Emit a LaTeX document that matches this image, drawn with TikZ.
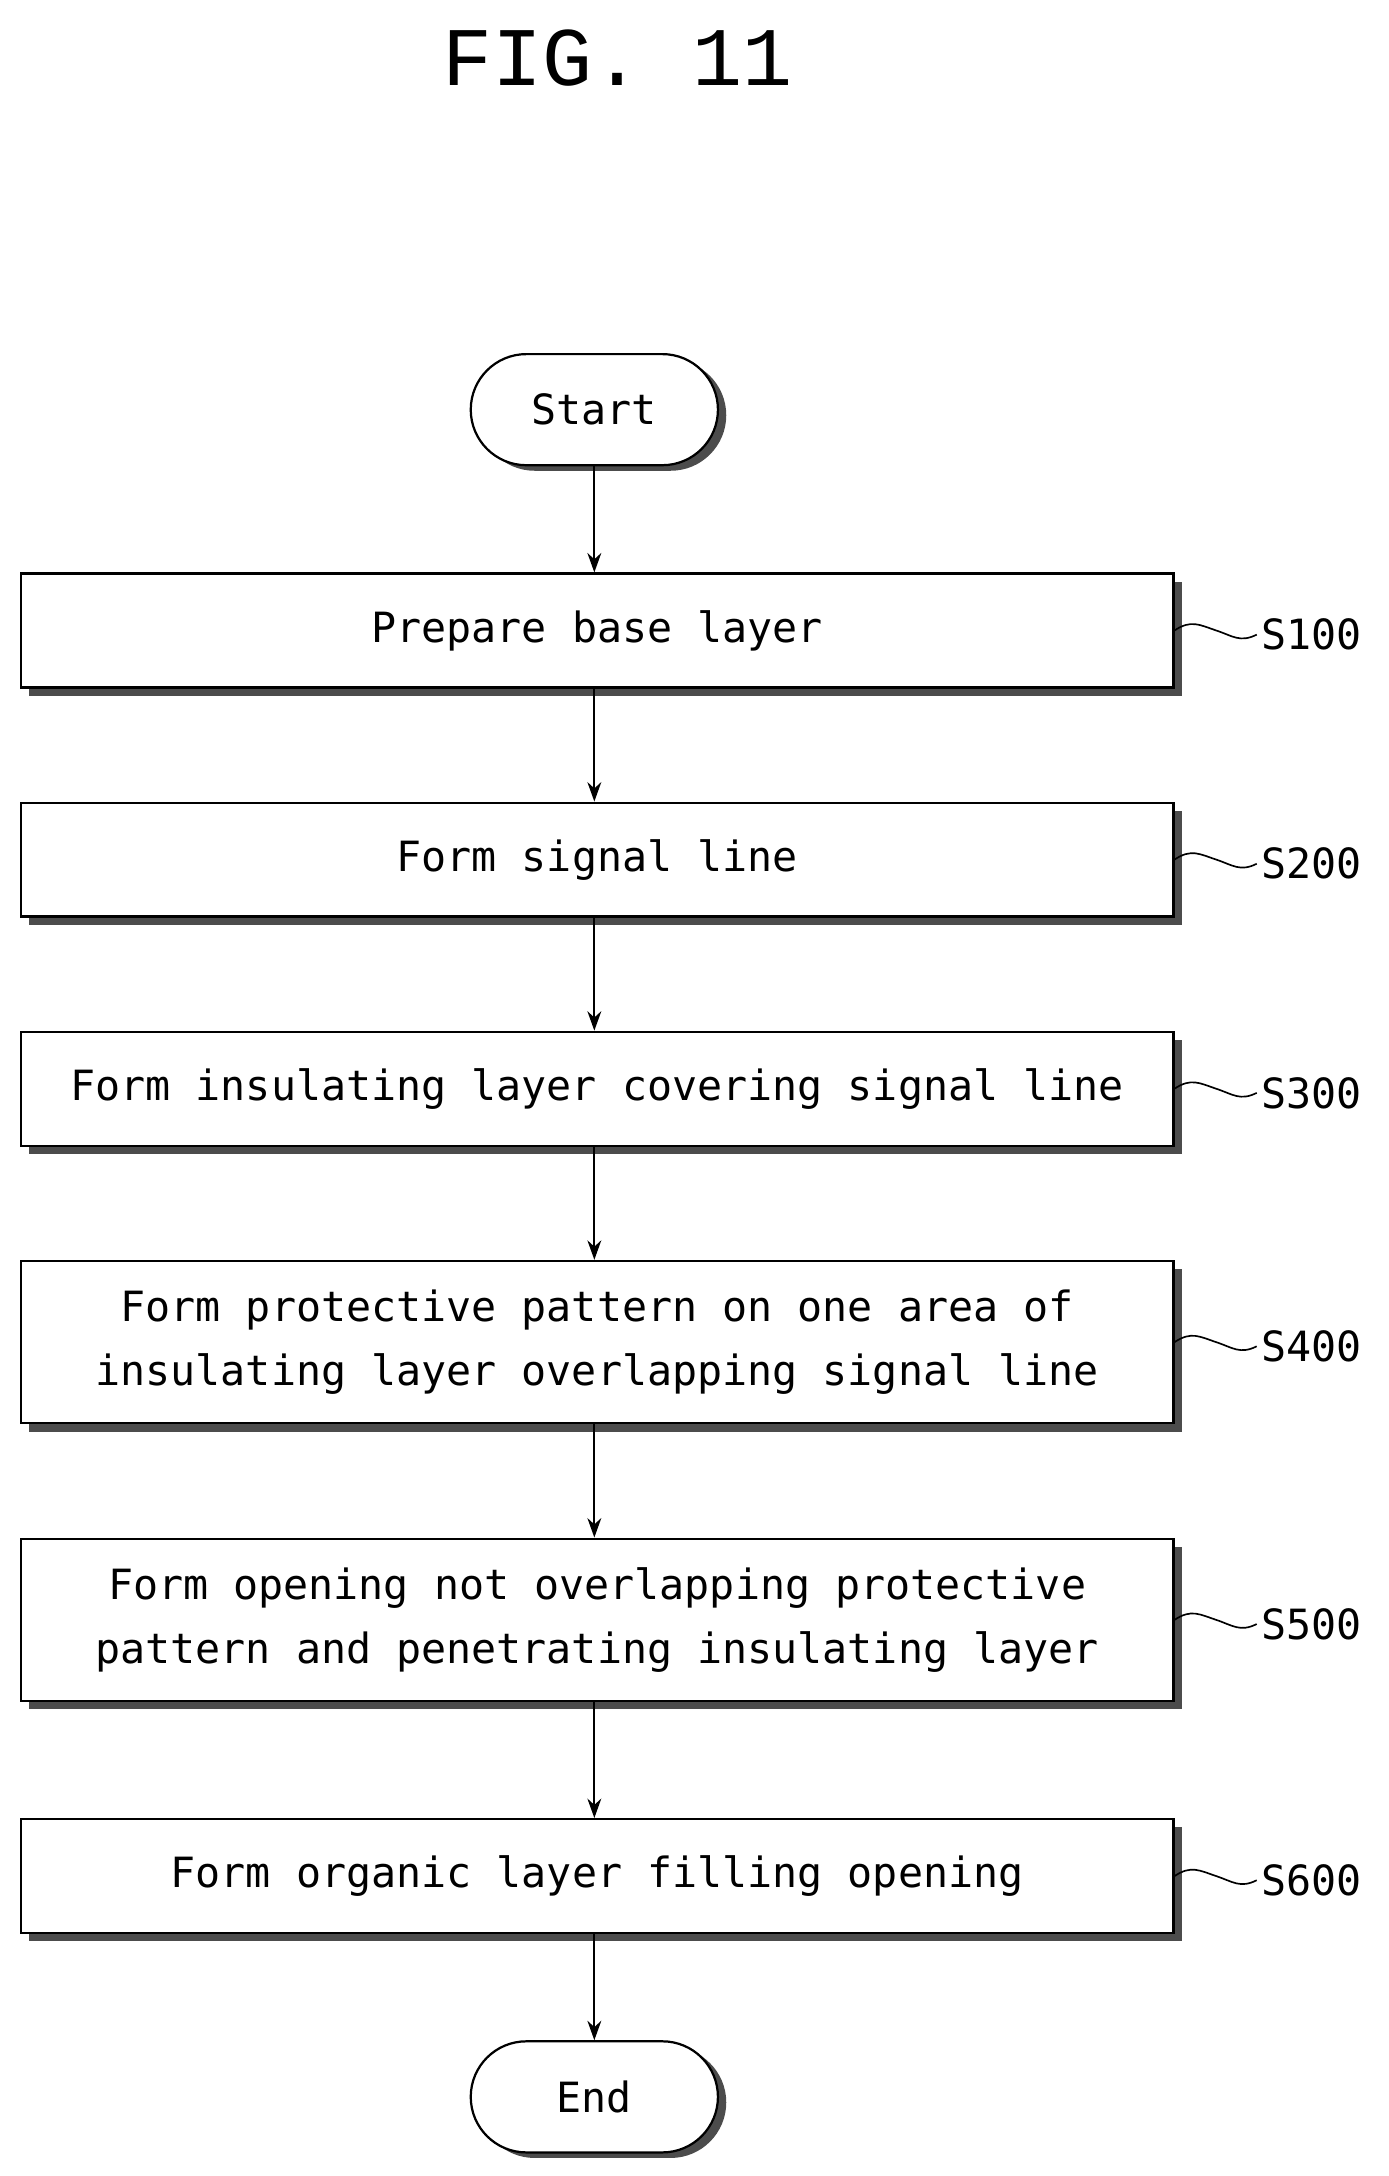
\documentclass[tikz,border=0pt]{standalone}
\usepackage{fontspec}
\setmainfont{DejaVu Sans Mono}
\newfontfamily\titlefont{Liberation Mono}
\usetikzlibrary{arrows.meta}
\begin{document}
\begin{tikzpicture}[x=1pt,y=-1pt,
  box/.style={draw,line width=1.6pt,fill=white,minimum width=830pt,align=center,font=\fontsize{30}{46}\selectfont,inner sep=0pt},
  term/.style={draw,line width=1.6pt,fill=white,rounded corners=40pt,minimum width=178pt,minimum height=80pt,font=\fontsize{30}{34}\selectfont},
  shad/.style={fill=black!70},
  arr/.style={-{Stealth[length=14pt,width=10pt]},line width=1.4pt},
  lab/.style={font=\fontsize{30}{34}\selectfont,anchor=west},
  wav/.style={line width=1.2pt}]
\useasboundingbox (0,0) rectangle (1000,1567);
\node[font=\titlefont\fontsize{60}{64}\selectfont] (t) at (445,42) {FIG. 11};
\def\bx#1#2#3#4#5{%
  \fill[shad] (21,#2+6) rectangle (851,#3+6);
  \node[box,minimum height=#3-#2] (#1) at (430,{(#2+#3)/2}) {#4};
  \coordinate (#1w) at (905,{(#2+#3)/2+3});
  \draw[wav] (#1.east) ++(0,0) .. controls +(12,-8) and +(-12,-4) .. ++(30,0) .. controls +(12,4) and +(-12,6) .. (#1w);
  \node[lab] at (#1w) {#5};}
\fill[shad,rounded corners=40pt] (345,259) rectangle (523,339);
\node[term] (start) at (428,295) {Start};
\bx{a}{413}{495}{Prepare base layer}{S100}
\bx{b}{578}{660}{Form signal line}{S200}
\bx{c}{743}{825}{Form insulating layer covering signal line}{S300}
\bx{d}{908}{1025}{Form protective pattern on one area of\\insulating layer overlapping signal line}{S400}
\bx{e}{1108}{1225}{Form opening not overlapping protective\\pattern and penetrating insulating layer}{S500}
\bx{f}{1310}{1392}{Form organic layer filling opening}{S600}
\fill[shad,rounded corners=40pt] (345,1474) rectangle (523,1554);
\node[term] (end) at (428,1510) {End};
\draw[arr] (start) -- (start|-a.north);
\draw[arr] (a.south-|start) -- (start|-b.north);
\draw[arr] (b.south-|start) -- (start|-c.north);
\draw[arr] (c.south-|start) -- (start|-d.north);
\draw[arr] (d.south-|start) -- (start|-e.north);
\draw[arr] (e.south-|start) -- (start|-f.north);
\draw[arr] (f.south-|start) -- (end);
\end{tikzpicture}
\end{document}
